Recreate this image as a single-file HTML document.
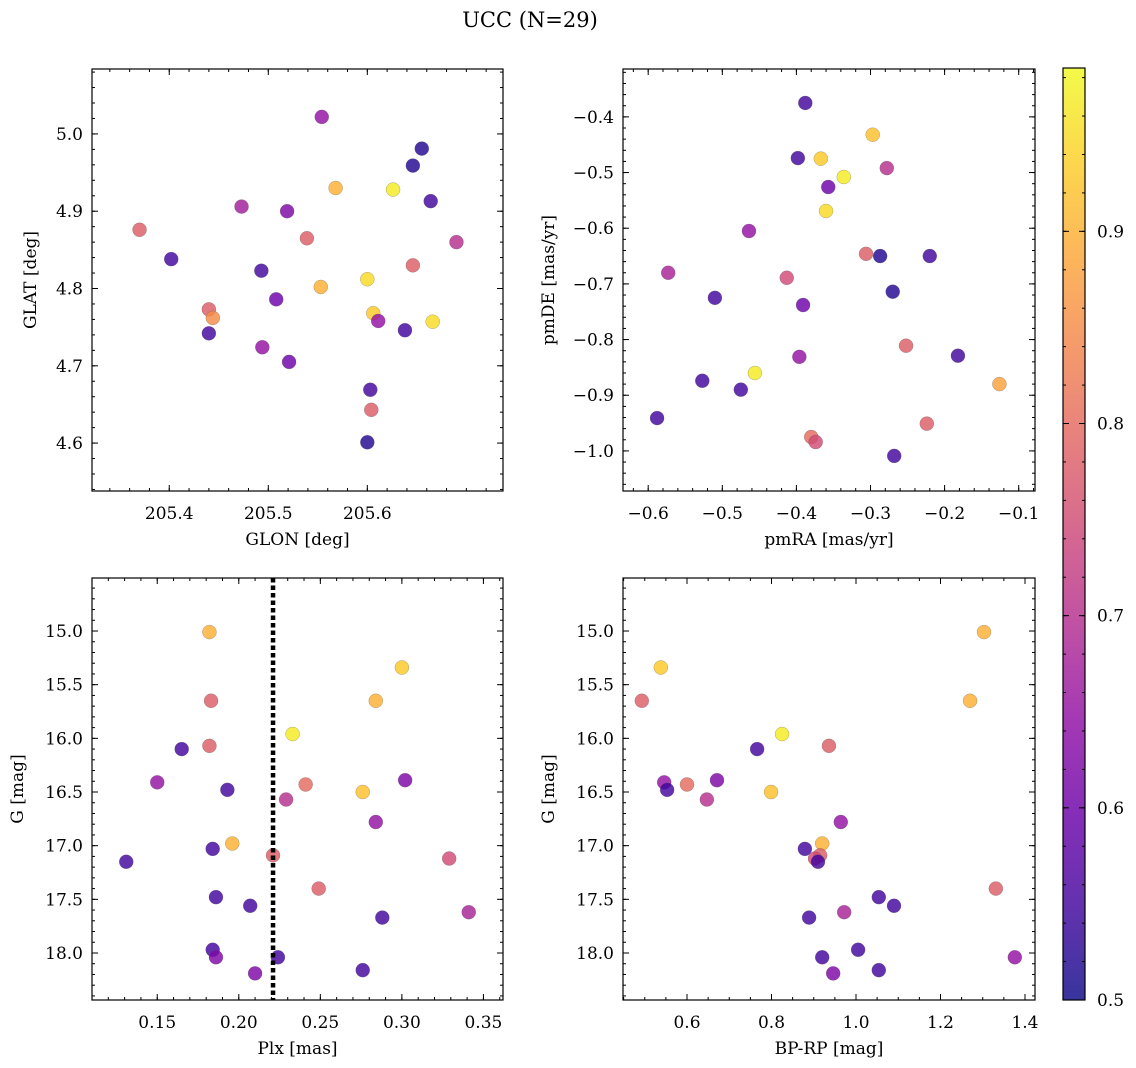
<!DOCTYPE html>
<html><head><meta charset="utf-8">
<style>
body{margin:0;background:#fff;}
svg{display:block;font-family:"DejaVu Serif","Liberation Serif",serif;}
</style></head>
<body>
<svg id="fig" width="1136" height="1068" viewBox="0 0 1136 1068" xmlns="http://www.w3.org/2000/svg">
<defs>
<linearGradient id="plasma" x1="0" y1="1" x2="0" y2="0">
<stop offset="0" stop-color="#0d0887"/><stop offset="0.1" stop-color="#41049d"/><stop offset="0.2" stop-color="#6a00a8"/><stop offset="0.3" stop-color="#8f0da4"/><stop offset="0.4" stop-color="#b12a90"/><stop offset="0.5" stop-color="#cc4778"/><stop offset="0.6" stop-color="#e16462"/><stop offset="0.7" stop-color="#f2844b"/><stop offset="0.8" stop-color="#fca636"/><stop offset="0.9" stop-color="#fcce25"/><stop offset="1" stop-color="#f0f921"/>
</linearGradient>
</defs>
<text x="530" y="27" font-size="21" text-anchor="middle">UCC (N=29)</text>
</svg>
<script>
// Panel 1: GLON vs GLAT
const glon=[205.554,205.655,205.646,205.568,205.626,205.664,205.473,205.519,205.370,205.690,205.539,205.402,205.646,205.493,205.600,205.553,205.508,205.440,205.606,205.444,205.611,205.666,205.638,205.440,205.494,205.521,205.603,205.604,205.600];
const glat=[5.022,4.981,4.959,4.930,4.928,4.913,4.906,4.900,4.876,4.860,4.865,4.838,4.830,4.823,4.812,4.802,4.786,4.773,4.768,4.762,4.758,4.757,4.746,4.742,4.724,4.705,4.669,4.643,4.601];
const prob1=[0.65,0.52,0.52,0.9,0.97,0.55,0.67,0.62,0.78,0.7,0.78,0.55,0.78,0.55,0.95,0.9,0.6,0.78,0.93,0.85,0.65,0.95,0.55,0.55,0.65,0.6,0.55,0.78,0.52];
// Panel 2: pmRA vs pmDE
const pmra=[-0.388,-0.297,-0.398,-0.367,-0.278,-0.336,-0.357,-0.360,-0.464,-0.306,-0.287,-0.220,-0.573,-0.413,-0.270,-0.510,-0.391,-0.252,-0.396,-0.182,-0.456,-0.527,-0.126,-0.475,-0.588,-0.224,-0.380,-0.374,-0.268];
const pmde=[-0.375,-0.432,-0.474,-0.475,-0.492,-0.508,-0.526,-0.569,-0.605,-0.646,-0.650,-0.650,-0.680,-0.689,-0.714,-0.725,-0.738,-0.811,-0.831,-0.829,-0.860,-0.874,-0.880,-0.890,-0.941,-0.951,-0.975,-0.984,-1.009];
const prob2=[0.55,0.92,0.55,0.93,0.7,0.97,0.6,0.95,0.65,0.78,0.52,0.55,0.68,0.75,0.52,0.55,0.6,0.78,0.65,0.55,0.97,0.55,0.88,0.55,0.55,0.78,0.8,0.75,0.55];
// Panel 3: Plx vs G
const plx=[0.182,0.300,0.183,0.284,0.233,0.165,0.182,0.150,0.241,0.302,0.193,0.276,0.229,0.284,0.196,0.184,0.221,0.329,0.131,0.249,0.186,0.207,0.341,0.288,0.184,0.186,0.224,0.210,0.276];
const gmag3=[15.01,15.34,15.65,15.65,15.96,16.10,16.07,16.41,16.43,16.39,16.48,16.50,16.57,16.78,16.98,17.03,17.09,17.12,17.15,17.40,17.48,17.56,17.62,17.67,17.97,18.04,18.04,18.19,18.16];
const prob3=[0.9,0.93,0.78,0.9,0.97,0.55,0.78,0.65,0.8,0.62,0.55,0.92,0.7,0.65,0.9,0.55,0.78,0.75,0.55,0.78,0.55,0.55,0.68,0.55,0.55,0.62,0.55,0.62,0.55];
const plxCut=0.221;
// Panel 4: BP-RP vs G
const bprp=[1.303,0.538,0.493,1.270,0.825,0.766,0.936,0.546,0.600,0.671,0.553,0.799,0.647,0.964,0.920,0.879,0.915,0.903,0.910,1.331,1.054,1.090,0.972,0.889,1.005,1.376,0.920,0.946,1.054];
const gmag4=[15.01,15.34,15.65,15.65,15.96,16.10,16.07,16.41,16.43,16.39,16.48,16.50,16.57,16.78,16.98,17.03,17.09,17.12,17.15,17.40,17.48,17.56,17.62,17.67,17.97,18.04,18.04,18.19,18.16];
const prob4=[0.9,0.93,0.78,0.9,0.97,0.55,0.78,0.65,0.8,0.62,0.55,0.92,0.7,0.65,0.9,0.55,0.78,0.75,0.55,0.78,0.55,0.55,0.68,0.55,0.55,0.65,0.55,0.62,0.55];
// tick labels
const ticks1x=[205.4,205.5,205.6], ticks1y=[4.6,4.7,4.8,4.9,5.0];
const ticks2x=[-0.6,-0.5,-0.4,-0.3,-0.2,-0.1], ticks2y=[-1.0,-0.9,-0.8,-0.7,-0.6,-0.5,-0.4];
const ticks3x=[0.15,0.20,0.25,0.30,0.35], ticksGy=[15.0,15.5,16.0,16.5,17.0,17.5,18.0];
const ticks4x=[0.6,0.8,1.0,1.2,1.4];
const cbTicks=[0.5,0.6,0.7,0.8,0.9];
const vmin=0.5, vmax=0.985;

const NS="http://www.w3.org/2000/svg";
const fig=document.getElementById('fig');
function mk(tag,attrs,parent){const e=document.createElementNS(NS,tag);for(const k in attrs)e.setAttribute(k,attrs[k]);(parent||fig).appendChild(e);return e;}
const stops=[[13,8,135],[65,4,157],[106,0,168],[143,13,164],[177,42,144],[204,71,120],[225,100,98],[242,132,75],[252,166,54],[252,206,37],[240,249,33]];
function plasma(v){let t=(v-vmin)/(vmax-vmin);t=Math.max(0,Math.min(1,t))*10;const i=Math.min(9,Math.floor(t)),f=t-i;const a=stops[i],b=stops[i+1];return 'rgb('+a.map((x,k)=>Math.round(x+(b[k]-x)*f)).join(',')+')';}
function fmt(v,d){const s=Math.abs(v).toFixed(d);return (v<0?'\u2212':'')+s;}

function panel(name,box,xd,yd,xs,ys,cs,xt,yt,xdec,ydec,xminor,yminor,xlabel,ylabel,yoff){
  const [L,T,R,B]=box;
  const X=v=>L+(v-xd[0])/(xd[1]-xd[0])*(R-L);
  const Y=v=>B-(v-yd[0])/(yd[1]-yd[0])*(B-T);
  const g=mk('g',{});
  
  
  for(let i=0;i<xs.length;i++){
    const c=mk('circle',{cx:X(xs[i]),cy:Y(ys[i]),r:7,fill:plasma(cs[i]),'fill-opacity':0.82,stroke:'#555','stroke-width':0.4,'stroke-opacity':0.6},g);
    
    
  }
  mk('rect',{x:L,y:T,width:R-L,height:B-T,fill:'none',stroke:'#000','stroke-width':1.2},g);
  const minorX=Math.ceil(xd[0]/xminor), maxX=Math.floor(xd[1]/xminor);
  for(let k=minorX;k<=maxX;k++){const px=X(k*xminor);mk('line',{x1:px,y1:B,x2:px,y2:B-3,stroke:'#000'},g);mk('line',{x1:px,y1:T,x2:px,y2:T+3,stroke:'#000'},g);}
  const minY=Math.ceil(Math.min(yd[0],yd[1])/yminor), maxY=Math.floor(Math.max(yd[0],yd[1])/yminor);
  for(let k=minY;k<=maxY;k++){const py=Y(k*yminor);mk('line',{x1:L,y1:py,x2:L+3,y2:py,stroke:'#000'},g);mk('line',{x1:R,y1:py,x2:R-3,y2:py,stroke:'#000'},g);}
  xt.forEach(v=>{const px=X(v);mk('line',{x1:px,y1:B,x2:px,y2:B-6,stroke:'#000'},g);mk('line',{x1:px,y1:T,x2:px,y2:T+6,stroke:'#000'},g);
    const t=mk('text',{x:px,y:B+28,'font-size':17,'text-anchor':'middle'},g);t.textContent=fmt(v,xdec);});
  yt.forEach(v=>{const py=Y(v);mk('line',{x1:L,y1:py,x2:L+6,y2:py,stroke:'#000'},g);mk('line',{x1:R,y1:py,x2:R-6,y2:py,stroke:'#000'},g);
    const t=mk('text',{x:L-9,y:py+6,'font-size':17,'text-anchor':'end'},g);t.textContent=fmt(v,ydec);});
  const xl=mk('text',{x:(L+R)/2,y:B+54,'font-size':17,'text-anchor':'middle'},g);xl.textContent=xlabel;
  
  
  const yl=mk('text',{x:0,y:0,'font-size':17,'text-anchor':'middle',transform:'translate('+(L-yoff)+','+((T+B)/2)+') rotate(-90)'},g);yl.textContent=ylabel;
  
  
  return {X,Y,g};
}
panel('glon-glat-panel',[92,69,503,491],[205.322,205.737],[4.538,5.084],glon,glat,prob1,ticks1x,ticks1y,1,1,0.02,0.02,'GLON [deg]','GLAT [deg]',56);
panel('pm-panel',[623,69,1035,491],[-0.634,-0.078],[-1.072,-0.314],pmra,pmde,prob2,ticks2x,ticks2y,1,1,0.02,0.02,'pmRA [mas/yr]','pmDE [mas/yr]',69);
const p3=panel('plx-g-panel',[92,578,503,1000],[0.110,0.362],[18.438,14.506],plx,gmag3,prob3,ticks3x,ticksGy,2,1,0.01,0.1,'Plx [mas]','G [mag]',69);
const cut=mk('line',{x1:p3.X(plxCut),y1:578,x2:p3.X(plxCut),y2:1000,stroke:'#000','stroke-width':4.5,'stroke-dasharray':'4.5,3'});


panel('cmd-panel',[623,578,1035,1000],[0.4485,1.4237],[18.438,14.506],bprp,gmag4,prob4,ticks4x,ticksGy,1,1,0.05,0.1,'BP-RP [mag]','G [mag]',69);

const cbL=1063,cbR=1085,cbT=68,cbB=1000;
const CY=v=>cbB-(v-vmin)/(vmax-vmin)*(cbB-cbT);
const cbg=mk('g',{});


mk('rect',{x:cbL,y:cbT,width:cbR-cbL,height:cbB-cbT,fill:'url(#plasma)','fill-opacity':0.82},cbg);
mk('rect',{x:cbL,y:cbT,width:cbR-cbL,height:cbB-cbT,fill:'none',stroke:'#000','stroke-width':1.2},cbg);
for(let k=50;k<=98;k+=2){const v=k/100;const py=CY(v);mk('line',{x1:cbR,y1:py,x2:cbR-3,y2:py,stroke:'#000'},cbg);mk('line',{x1:cbL,y1:py,x2:cbL+3,y2:py,stroke:'#000'},cbg);}
cbTicks.forEach(v=>{const py=CY(v);mk('line',{x1:cbR,y1:py,x2:cbR-6,y2:py,stroke:'#000'},cbg);mk('line',{x1:cbL,y1:py,x2:cbL+6,y2:py,stroke:'#000'},cbg);
  const t=mk('text',{x:cbR+12,y:py+6,'font-size':17},cbg);t.textContent=v.toFixed(1);
  
  });
</script>
</body></html>
